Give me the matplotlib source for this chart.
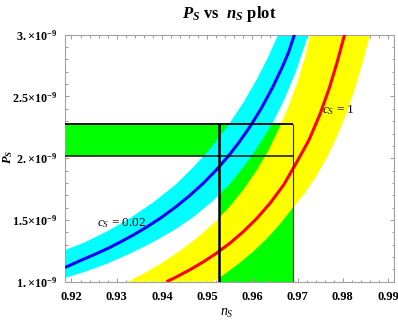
import matplotlib
matplotlib.use("Agg")
import matplotlib.pyplot as plt
import numpy as np
from matplotlib.ticker import FixedLocator, FixedFormatter, MultipleLocator

plt.rcParams['mathtext.fontset'] = 'custom'
plt.rcParams['mathtext.rm'] = 'Liberation Serif'
plt.rcParams['mathtext.it'] = 'Liberation Serif:italic'
plt.rcParams['mathtext.bf'] = 'Liberation Serif:bold'
plt.rcParams['mathtext.bfit'] = 'Liberation Serif:italic:bold'
plt.rcParams['font.family'] = ['Liberation Serif', 'DejaVu Serif']

P_unit = 1e-9

# c_s = 0.02 (blue) central curve and cyan band edges (P in units of 1e-9)
blue_ns = [0.9186, 0.922, 0.925, 0.928, 0.931, 0.934, 0.937, 0.940, 0.943, 0.946,
           0.949, 0.952, 0.9545, 0.957, 0.9595, 0.962, 0.9645, 0.9665, 0.968, 0.9693]
blue_P = [1.115, 1.172, 1.219, 1.269, 1.325, 1.385, 1.451, 1.523, 1.604, 1.693,
          1.792, 1.904, 2.009, 2.126, 2.257, 2.405, 2.575, 2.728, 2.856, 3.00]
cyan_up_ns = [0.9185, 0.923, 0.928, 0.933, 0.938, 0.943, 0.947, 0.951, 0.9549, 0.958,
              0.961, 0.9635, 0.9657]
cyan_up_P = [1.255, 1.32, 1.41, 1.516, 1.64, 1.785, 1.93, 2.09, 2.28, 2.45,
             2.64, 2.82, 3.00]
cyan_lo_ns = [0.9185, 0.923, 0.928, 0.933, 0.938, 0.943, 0.947, 0.951, 0.955, 0.9595,
              0.962, 0.9647, 0.967, 0.9695, 0.9724]
cyan_lo_P = [1.03, 1.08, 1.148, 1.228, 1.32, 1.425, 1.525, 1.645, 1.79, 2.00,
             2.14, 2.30, 2.47, 2.69, 3.00]

# c_s = 1 (red) central curve and yellow band edges
red_ns = [0.941, 0.943, 0.946, 0.949, 0.952, 0.955, 0.958, 0.961, 0.964, 0.967,
          0.970, 0.9725, 0.975, 0.977, 0.9788, 0.9804]
red_P = [1.00, 1.035, 1.093, 1.157, 1.229, 1.311, 1.405, 1.513, 1.639, 1.788,
         1.98, 2.145, 2.36, 2.565, 2.783, 3.00]
yel_up_ns = [0.9325, 0.936, 0.940, 0.944, 0.948, 0.952, 0.955, 0.958, 0.961, 0.9635,
             0.966, 0.968, 0.970, 0.9715, 0.9728]
yel_up_P = [1.00, 1.067, 1.153, 1.25, 1.362, 1.492, 1.609, 1.745, 1.905, 2.06,
            2.25, 2.42, 2.62, 2.80, 3.00]
yel_lo_ns = [0.9515, 0.954, 0.957, 0.960, 0.963, 0.966, 0.9689, 0.9715, 0.974, 0.9768,
             0.979, 0.981, 0.9828, 0.9845, 0.986]
yel_lo_P = [1.00, 1.065, 1.147, 1.238, 1.341, 1.462, 1.595, 1.712, 1.846, 2.026,
            2.20, 2.379, 2.576, 2.787, 3.00]

# observational constraint (green)
obs_ns = [0.9527, 0.969]
obs_P = [2.02, 2.28]

x_lim = (0.9185, 0.9914)
y_lim = (1.0, 3.0)
x_ticks = [0.92, 0.93, 0.94, 0.95, 0.96, 0.97, 0.98, 0.99]
x_ticklabels = ["0.92", "0.93", "0.94", "0.95", "0.96", "0.97", "0.98", "0.99"]
y_ticks = [1.0, 1.5, 2.0, 2.5, 3.0]
y_ticklabels = [r"$\mathbf{1.\!\times\!10^{-9}}$", r"$\mathbf{1.5\!\times\!10^{-9}}$",
                r"$\mathbf{2.\!\times\!10^{-9}}$", r"$\mathbf{2.5\!\times\!10^{-9}}$",
                r"$\mathbf{3.\!\times\!10^{-9}}$"]

def s(v):
    return np.asarray(v) * P_unit

fig = plt.figure(figsize=(3.98, 3.27), dpi=100)
ax = fig.add_axes([0.1626, 0.1385, 0.8281, 0.7554])

GREEN = '#00ff00'
ax.fill_between([x_lim[0], obs_ns[1]], s(obs_P[0]), s(obs_P[1]), color=GREEN, lw=0, zorder=1)
ax.fill_between(obs_ns, s(y_lim[0]), s(obs_P[1]), color=GREEN, lw=0, zorder=1)

ax.fill(np.concatenate([cyan_up_ns, cyan_lo_ns[::-1]]),
        s(np.concatenate([cyan_up_P, cyan_lo_P[::-1]])), color='#00ffff', lw=0, zorder=2)
ax.fill(np.concatenate([yel_up_ns, yel_lo_ns[::-1]]),
        s(np.concatenate([yel_up_P, yel_lo_P[::-1]])), color='#ffff00', lw=0, zorder=2)

ax.plot(blue_ns, s(blue_P), color='#0000ff', lw=2.2, zorder=3, solid_capstyle='butt')
ax.plot(red_ns, s(red_P), color='#ff0000', lw=2.2, zorder=3, solid_capstyle='butt')

ax.hlines(s(obs_P[1]), x_lim[0], obs_ns[1], color='black', lw=1.3, zorder=4)
ax.hlines(s(obs_P[0]), x_lim[0], obs_ns[1], color='#111111', lw=1.1, zorder=4)
ax.vlines(obs_ns[0], s(y_lim[0]), s(obs_P[1]), color='black', lw=1.8, zorder=4)
ax.vlines(obs_ns[1], s(y_lim[0]), s(obs_P[1]), color='#222222', lw=0.8, zorder=4)

ax.set_xlim(*x_lim)
ax.set_ylim(s(y_lim[0]), s(y_lim[1]))

ax.xaxis.set_major_locator(FixedLocator(x_ticks))
ax.xaxis.set_major_formatter(FixedFormatter(x_ticklabels))
ax.xaxis.set_minor_locator(MultipleLocator(0.002))
ax.yaxis.set_major_locator(FixedLocator(s(y_ticks)))
ax.yaxis.set_major_formatter(FixedFormatter(y_ticklabels))
ax.yaxis.set_minor_locator(MultipleLocator(0.1 * P_unit))

ax.tick_params(which='both', direction='in', top=True, right=True, color='#999999', width=0.7)
ax.tick_params(which='major', length=3.2)
ax.tick_params(which='minor', length=1.8)
ax.tick_params(axis='x', which='major', pad=7, labelsize=9)
ax.tick_params(axis='y', which='major', pad=5, labelsize=8.7)
for lab in ax.get_xticklabels():
    lab.set_fontweight('bold')
for sp in ax.spines.values():
    sp.set_color('#a0a0a0')
    sp.set_linewidth(0.8)

ax.text(0.9312, s(1.475), r"$c_S$ = 0.02", fontsize=9.5, ha='center', va='center', zorder=5)
ax.text(0.9790, s(2.39), r"$c_S$ = 1", fontsize=9.5, ha='center', va='center', zorder=5)

ax.set_title(r"$\mathbfit{P_S}$ vs  $\mathbfit{n_S}$ plot", fontsize=12, fontweight='bold',
             y=1.084, va='center', pad=0)
ax.set_xlabel(r"$n_S$", fontsize=10, va='center')
ax.xaxis.set_label_coords(0.4924, -0.127)
ax.set_ylabel(r"$\mathbfit{P_S}$", fontsize=9, va='center')
ax.yaxis.set_label_coords(-0.172, 0.505)

fig.savefig("out.png", dpi=100)
